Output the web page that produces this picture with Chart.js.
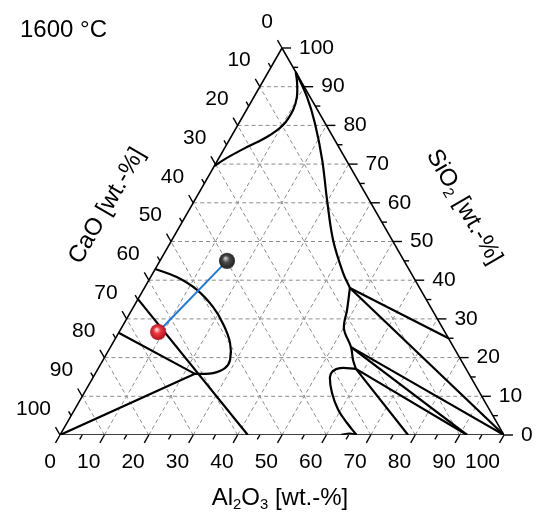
<!DOCTYPE html>
<html>
<head>
<meta charset="utf-8">
<script src="https://cdn.jsdelivr.net/npm/chart.js@4.4.1/dist/chart.umd.min.js"></script>
<style>
  body { margin: 0; background: #fff; }
</style>
</head>
<body>
<canvas id="ternary" width="536" height="515"></canvas>
<script>
// all compositions in wt.-%, given as [Al2O3, SiO2] (CaO = 100 - Al2O3 - SiO2)
var TEMPERATURE = "1600 °C";
var TICK_VALUES = [0, 10, 20, 30, 40, 50, 60, 70, 80, 90, 100];
var MINOR_VALUES = [5, 15, 25, 35, 45, 55, 65, 75, 85, 95];
var GRID_VALUES = [10, 20, 30, 40, 50, 60, 70, 80, 90];

var SIO2_LIQUIDUS = [[6.2, 93.8], [7.9, 91], [9.7, 87.3], [10.5, 84], [10.2, 80.1], [8.1, 77], [4.9, 74.4], [1.8, 71.6], [0, 69.5]];
var MAIN_UPPER = [[6.2, 93.8], [12, 87.3], [17.1, 80.6], [23.5, 71.1], [29.8, 60.7], [36.3, 50.4], [42.8, 41.9], [46.3, 38]];
var MAIN_LOWER = [[46.3, 38], [48.5, 32.3], [50.2, 27.5], [54.2, 22.7], [56.3, 19.4], [58.1, 17.1]];
var LOOP_AL2O3 = [[58.1, 17.1], [54.4, 17.3], [53.2, 16.5], [53.3, 15], [55.8, 10.9], [59.4, 6.5], [63.1, 3.1], [66.8, 0]];
var BOTTOM_LENS = [[63.3, 0.1], [65, 0.45], [66.8, 0.1]];
var TIE_LINES = [
  [[46.3, 38], [75, 25]],
  [[46.3, 38], [100, 0]],
  [[54.2, 22.7], [100, 0]],
  [[54.2, 22.7], [91.7, 0]],
  [[58.1, 17.1], [91.7, 0]],
  [[58.1, 17.1], [78.4, 0]]
];
var LIME_LIQUIDUS = [[0, 42.9], [5.9, 40.8], [12.1, 37.5], [17.9, 33.1], [22.2, 28.9], [26.4, 23.8], [28.6, 19.4], [28.5, 17.3], [26.5, 16], [23.7, 15.8], [22.5, 15.8]];
var LEFT_LINES = [
  [[0, 35.1], [42.3, 0]],
  [[0, 26.4], [22.5, 15.8]],
  [[0, 0], [22.5, 15.8]]
];
var SLAG_START = [15.1, 45];
var SLAG_END = [8.8, 26.6];

var FONT = "'Liberation Sans', Arial, sans-serif";

function tern(p) {
  return { x: p[0] + p[1] / 2, y: p[1] };
}

function sphere(light, base, dark, r) {
  var c = document.createElement('canvas');
  c.width = c.height = 2 * r + 2;
  var g = c.getContext('2d');
  var grad = g.createRadialGradient(r + 1 - r * 0.2, r + 1 - r * 0.35, r * 0.05, r + 1, r + 1, r);
  grad.addColorStop(0, light);
  grad.addColorStop(0.4, base);
  grad.addColorStop(1, dark);
  g.fillStyle = grad;
  g.beginPath();
  g.arc(r + 1, r + 1, r, 0, 2 * Math.PI);
  g.fill();
  return c;
}

function line(points, opts) {
  var ds = {
    data: points.map(tern),
    showLine: true,
    pointRadius: 0,
    borderColor: '#000',
    borderWidth: 2.2,
    tension: 0,
    order: 2
  };
  for (var k in opts) ds[k] = opts[k];
  return ds;
}

var datasets = [];

// dashed grid
GRID_VALUES.forEach(function (g) {
  var grid = { borderColor: '#8c8c8c', borderWidth: 1, borderDash: [4, 3], order: 5 };
  datasets.push(line([[g, 0], [g, 100 - g]], grid));             // Al2O3 = g
  datasets.push(line([[0, g], [100 - g, g]], grid));             // SiO2 = g
  datasets.push(line([[100 - g, 0], [0, 100 - g]], grid));       // CaO = g
});

// triangle frame
datasets.push(line([[0, 0], [100, 0], [0, 100], [0, 0]], { borderWidth: 1.6, order: 4 }));

// phase boundaries
datasets.push(line(SIO2_LIQUIDUS, { tension: 0.35 }));
datasets.push(line(MAIN_UPPER, { tension: 0.35 }));
datasets.push(line(MAIN_LOWER, { tension: 0.35 }));
datasets.push(line(LOOP_AL2O3, { tension: 0.4 }));
datasets.push(line(BOTTOM_LENS, { tension: 0.4, borderWidth: 1.6 }));
datasets.push(line(LIME_LIQUIDUS, { tension: 0.4 }));
TIE_LINES.concat(LEFT_LINES).forEach(function (t) { datasets.push(line(t, {})); });

// slag path
datasets.push(line([SLAG_START, SLAG_END], { borderColor: '#1f78e0', borderWidth: 2, order: 1 }));
datasets.push({
  data: [tern(SLAG_START)],
  pointStyle: sphere('#d0d0d0', '#4a4a4a', '#222', 8),
  pointRadius: 8,
  order: 0
});
datasets.push({
  data: [tern(SLAG_END)],
  pointStyle: sphere('#ffe6e6', '#f03842', '#b3111d', 8),
  pointRadius: 8,
  order: 0
});

function richText(ctx, parts, x, y, align, size) {
  var w = 0;
  parts.forEach(function (p) {
    ctx.font = (p[1] ? size * 0.62 : size) + 'px ' + FONT;
    p.w = ctx.measureText(p[0]).width;
    w += p.w;
  });
  var sx = align === 'center' ? x - w / 2 : (align === 'right' ? x - w : x);
  ctx.textAlign = 'left';
  ctx.textBaseline = 'middle';
  parts.forEach(function (p) {
    ctx.font = (p[1] ? size * 0.62 : size) + 'px ' + FONT;
    ctx.fillText(p[0], sx, p[1] ? y + size * 0.3 : y);
    sx += p.w;
  });
}

var ternaryAxes = {
  id: 'ternaryAxes',
  afterDatasetsDraw: function (chart) {
    var ctx = chart.ctx, sx = chart.scales.x, sy = chart.scales.y;
    function px(p) {
      var q = tern(p);
      return [sx.getPixelForValue(q.x), sy.getPixelForValue(q.y)];
    }
    var c60 = Math.cos(Math.PI / 3), s60 = Math.sin(Math.PI / 3);
    ctx.save();
    ctx.strokeStyle = '#000';
    ctx.lineWidth = 1.4;
    function tick(p, dx, dy, len) {
      ctx.beginPath();
      ctx.moveTo(p[0], p[1]);
      ctx.lineTo(p[0] + dx * len, p[1] + dy * len);
      ctx.stroke();
    }
    TICK_VALUES.concat(MINOR_VALUES).forEach(function (v) {
      var len = v % 10 === 0 ? 9 : 5;
      tick(px([v, 0]), -c60, s60, len);          // Al2O3, bottom
      tick(px([100 - v, v]), 1, 0, len);         // SiO2, right
      tick(px([0, 100 - v]), -c60, -s60, len);   // CaO, left
    });
    ctx.fillStyle = '#000';
    TICK_VALUES.forEach(function (v) {
      var b = px([v, 0]);
      richText(ctx, [[String(v)]], b[0] - 4, b[1] + 27, 'right', 21);
      var r = px([100 - v, v]);
      richText(ctx, [[String(v)]], r[0] + 17, r[1], 'left', 21);
      var l = px([0, 100 - v]);
      richText(ctx, [[String(v)]], l[0] - 9, l[1] - 26, 'right', 21);
    });
    // axis titles
    richText(ctx, [['Al'], ['2', 1], ['O'], ['3', 1], [' [wt.-%]']], 280, 498, 'center', 24);
    ctx.save();
    ctx.translate(107, 206);
    ctx.rotate(-Math.PI / 3);
    richText(ctx, [['CaO [wt.-%]']], 0, 0, 'center', 24);
    ctx.restore();
    ctx.save();
    ctx.translate(464, 207);
    ctx.rotate(Math.PI / 3);
    richText(ctx, [['SiO'], ['2', 1], [' [wt.-%]']], 0, 0, 'center', 24);
    ctx.restore();
    richText(ctx, [[TEMPERATURE]], 20, 30, 'left', 24);
    ctx.restore();
  }
};

new Chart(document.getElementById('ternary'), {
  type: 'scatter',
  data: { datasets: datasets },
  options: {
    responsive: false,
    animation: false,
    events: [],
    layout: { padding: { left: 60, right: 32, top: 48, bottom: 80 } },
    plugins: { legend: { display: false }, tooltip: { enabled: false } },
    scales: {
      x: { type: 'linear', min: 0, max: 100, display: false },
      y: { type: 'linear', min: 0, max: 100, display: false }
    },
    elements: { line: { fill: false } }
  },
  plugins: [ternaryAxes]
});
</script>
</body>
</html>
